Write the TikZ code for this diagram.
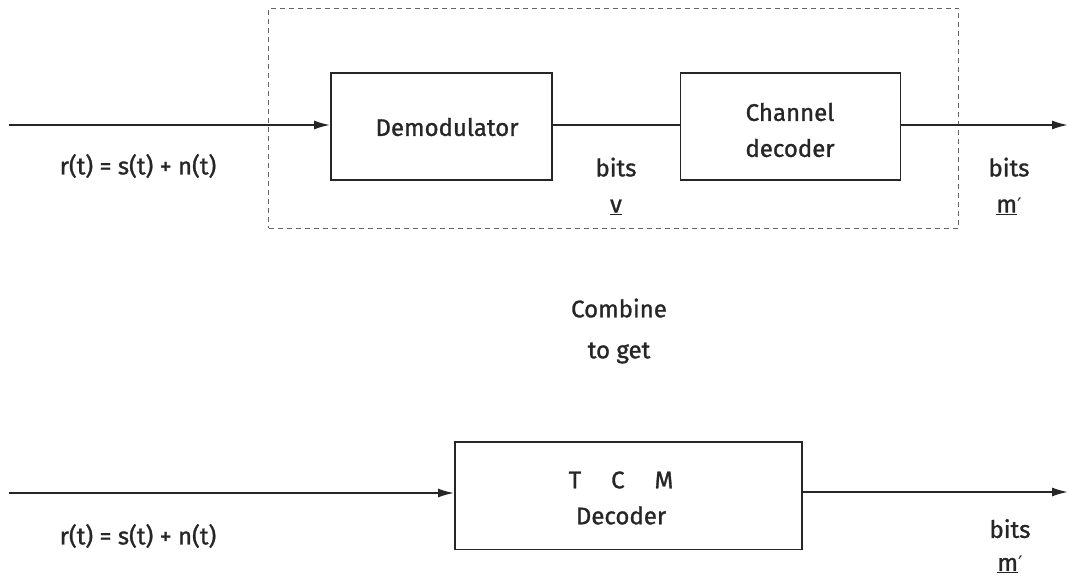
\documentclass[tikz,border=0pt]{standalone}
\usepackage{fontspec}
\setmainfont{Fira Sans}[FakeBold=1.2]
\newfontfamily\primefont{DejaVu Sans}
\usetikzlibrary{arrows.meta}
\newcommand{\prm}{{\primefont\fontsize{20}{20}\selectfont ′}}
\tikzset{
  blk/.style={draw=black!85, line width=1.8pt, minimum height=107pt, inner sep=0pt},
  conn/.style={draw=black!85, line width=1.8pt},
  arr/.style={conn, -{Latex[length=16pt,width=9pt]}},
  lbl/.style={font=\fontsize{24}{36}\selectfont, text=black!85, align=center, inner sep=0pt},
  grp/.style={draw=black!60, line width=0.9pt, dash pattern=on 5pt off 4pt}
}
\begin{document}
\begin{tikzpicture}[x=1pt,y=-1pt]
\useasboundingbox (0,0) rectangle (1070,578);
% group box
\node[grp, minimum width=690pt, minimum height=220pt, inner sep=0pt] (grp) at (613.5,118) {};
% top row
\node[blk, minimum width=221pt] (demod) at (441.5,126.5) {};
\node[lbl] (demodtxt) at (447,127) {Demodulator};
\node[blk, minimum width=220pt] (chan) at (790.5,126.5) {};
\node[lbl] (chantxt) at (790,130) {Channel\\decoder};
\coordinate (inA) at (9,125);
\coordinate (outA) at (1068,125);
\draw[arr] (inA) -- (demod.west |- inA);
\draw[conn] (demod.east |- inA) -- (chan.west |- inA);
\draw[arr] (chan.east |- outA) -- (outA);
\node[lbl] (rtA) at (138,166) {r(t) = s(t) + n(t)};
\node[lbl] (bitsv) at (616,186) {bits\\\underline{v}};
\node[lbl] (bitsmA) at (1009,186) {bits\\\underline{m}\prm};
% middle
\node[lbl, font=\fontsize{24}{41}\selectfont] (comb) at (619,331) {Combine\\to get};
% bottom row
\node[blk, minimum width=347pt, minimum height=107.5pt] (tcm) at (628.5,495.7) {};
\node[lbl] (tcmtxt) at (621,498) {T\hspace{1.25em}C\hspace{1.25em}M\\Decoder};
\coordinate (inB) at (9,493);
\coordinate (outB) at (1068,492);
\draw[arr] (inB) -- (tcm.west |- inB);
\draw[arr] (tcm.east |- outB) -- (outB);
\node[lbl] (rtB) at (138,536) {r(t) = s(t) + n(t)};
\node[lbl, font=\fontsize{24}{33}\selectfont] (bitsmB) at (1010,546) {bits\\\underline{m}\prm};
\end{tikzpicture}
\end{document}
